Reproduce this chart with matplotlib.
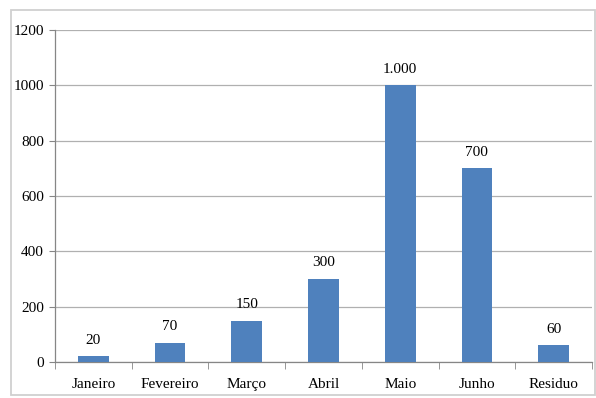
import matplotlib.pyplot as plt
from matplotlib.patches import Rectangle

plt.rcParams['font.family'] = ['Liberation Serif', 'DejaVu Serif']

meses = ['Janeiro', 'Fevereiro', 'Março', 'Abril', 'Maio', 'Junho', 'Residuo']
valores = [20, 70, 150, 300, 1000, 700, 60]
rotulos = ['20', '70', '150', '300', '1.000', '700', '60']
yticks = [0, 200, 400, 600, 800, 1000, 1200]

fig = plt.figure(figsize=(5.96, 3.98), dpi=100)
# chart frame
fig.patches.append(Rectangle((11 / 596, 3 / 398), 584 / 596, 385 / 398,
                             transform=fig.transFigure, fill=False,
                             edgecolor='#D0D0D0', linewidth=1.3))

ax = fig.add_axes([55 / 596, 36 / 398, 537 / 596, 332 / 398])
x = range(len(meses))
ax.bar(x, valores, width=0.4, color='#4F81BD', zorder=3)
for xi, v, t in zip(x, valores, rotulos):
    ax.annotate(t, (xi, v), xytext=(0, 7), textcoords='offset points',
                ha='center', va='bottom', fontsize=11)

ax.set_xlim(-0.5, len(meses) - 0.5)
ax.set_ylim(0, 1200)
ax.set_yticks(yticks)
ax.set_yticklabels([str(t) for t in yticks], fontsize=11)
ax.set_xticks(list(x))
ax.set_xticklabels(meses, fontsize=11)
# same baseline for all month names (ç would push Março down otherwise)
for lab in ax.get_xticklabels():
    lab.set_va('baseline')
ax.tick_params(axis='x', length=0, pad=19)
ax.set_xticks([i - 0.5 for i in range(len(meses) + 1)], minor=True)
ax.tick_params(axis='x', which='minor', length=5, color='#868686', direction='out')
ax.tick_params(axis='y', length=4, color='#868686', pad=4)
ax.grid(axis='y', color='#B0B0B0', linewidth=0.9, zorder=0)

for s in ['top', 'right']:
    ax.spines[s].set_visible(False)
for s in ['left', 'bottom']:
    ax.spines[s].set_color('#868686')
    ax.spines[s].set_linewidth(0.9)

fig.savefig('out.png', dpi=100)
